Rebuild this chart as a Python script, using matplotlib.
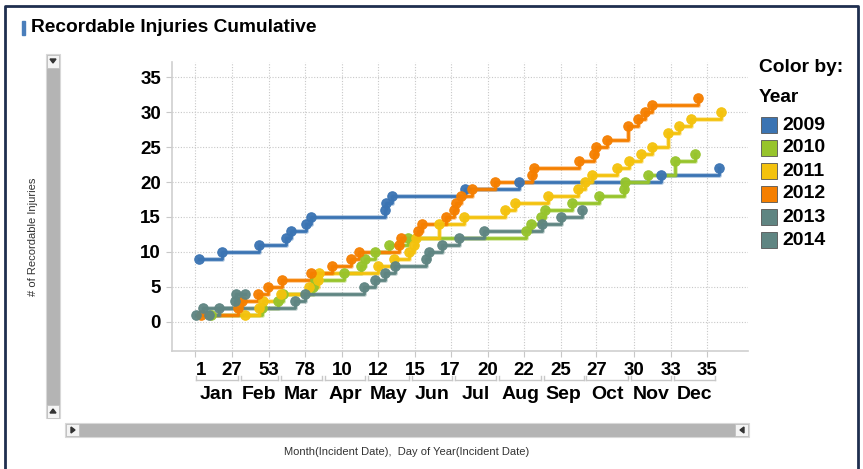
import matplotlib.pyplot as plt
import matplotlib.patheffects as pe
from matplotlib.patches import Rectangle, Polygon
from matplotlib.lines import Line2D
from matplotlib.transforms import ScaledTranslation

plt.rcParams['font.family'] = ['Liberation Sans', 'DejaVu Sans']

# ---- data: day of year of each incident and the running total ----
years = ["2009", "2010", "2011", "2012", "2013", "2014"]
colors = ["#3b74b3", "#97c42c", "#f4c20d", "#f57f00", "#5f8582", "#5f8582"]

days_2009 = [4, 20, 46, 65, 68, 79, 82, 134, 135, 139, 190, 228, 327, 368]
cum_2009 = [9, 10, 11, 12, 13, 14, 15, 16, 17, 18, 19, 20, 21, 22]

days_2010 = [12, 48, 59, 63, 84, 85, 105, 117, 120, 127, 137, 150, 233, 236,
             243, 246, 265, 284, 301, 302, 318, 337, 351]
cum_2010 = [1, 2, 3, 4, 5, 6, 7, 8, 9, 10, 11, 12, 13, 14,
            15, 16, 17, 18, 19, 20, 21, 23, 24]

days_2011 = [36, 46, 49, 61, 81, 87, 88, 129, 140, 151, 154, 156, 172, 189,
             218, 225, 248, 269, 274, 279, 296, 305, 313, 321, 332, 340, 348, 369]
cum_2011 = [1, 2, 3, 4, 5, 6, 7, 8, 9, 10, 11, 12, 14, 15,
            16, 17, 18, 19, 20, 21, 22, 23, 24, 25, 27, 28, 29, 30]

days_2012 = [5, 31, 34, 45, 52, 62, 82, 97, 110, 116, 144, 145, 157, 160,
             177, 182, 184, 187, 195, 211, 237, 238, 270, 280, 282, 289, 304,
             311, 316, 321, 353]
cum_2012 = [1, 2, 3, 4, 5, 6, 7, 8, 9, 10, 11, 12, 13, 14,
            15, 16, 17, 18, 19, 20, 21, 22, 23, 24, 25, 26, 28,
            29, 30, 31, 32]

days_2013 = [2, 7, 71, 78, 119, 127, 134, 141, 163, 165, 174, 186, 203, 244,
             257, 272]
cum_2013 = [1, 2, 3, 4, 5, 6, 7, 8, 9, 10, 11, 12, 13, 14, 15, 16]

days_2014 = [11, 18, 29, 30, 36]
cum_2014 = [1, 2, 3, 4, 4]

series = [(days_2009, cum_2009), (days_2010, cum_2010), (days_2011, cum_2011),
          (days_2012, cum_2012), (days_2013, cum_2013), (days_2014, cum_2014)]

tick_days = [1, 27, 53, 78, 104, 129, 155, 180, 206, 231, 257, 282, 308, 334, 359]
tick_labels = ["1", "27", "53", "78", "10", "12", "15", "17", "20", "22", "25",
               "27", "30", "33", "35"]
months = ["Jan", "Feb", "Mar", "Apr", "May", "Jun", "Jul", "Aug", "Sep", "Oct",
          "Nov", "Dec"]
month_starts = [1, 32, 60, 91, 121, 152, 182, 213, 244, 274, 305, 335, 366]

W, H = 863, 469


def fx(x):
    return x / W


def fy(y):
    return 1 - y / H


fig = plt.figure(figsize=(W / 100, H / 100), dpi=100)
fig.patch.set_facecolor("white")

ax = fig.add_axes([fx(172), fy(351), (748 - 172) / W, (351 - 62) / H])
ax.set_xlim(-15, 388)
ax.set_ylim(-4.2, 37.2)

for (d, c), col in zip(series, colors):
    ax.step(d, c, where="post", color=col, lw=2.0, zorder=3,
            path_effects=[pe.Stroke(linewidth=3.6, foreground=col, alpha=0.35),
                          pe.Normal()])
    ax.plot(d, c, "o", color=col, ms=6.8, mec=col, mew=0.8, alpha=0.95,
            zorder=4)

ax.set_yticks(range(0, 36, 5))
ax.set_xticks(tick_days)
ax.set_xticklabels(tick_labels)
ax.grid(True, color="#c8c8c8", ls=(0, (1, 1.5)), lw=0.8)
ax.set_axisbelow(True)
for s in ["top", "right"]:
    ax.spines[s].set_visible(False)
for s in ["left", "bottom"]:
    ax.spines[s].set_color("#cfcfcf")
    ax.spines[s].set_linewidth(1.2)
ax.tick_params(axis="both", colors="#c8c8c8", length=4, labelcolor="black",
               labelsize=13.5)
ax.tick_params(axis="x", pad=4)
ax.tick_params(axis="y", pad=4)
for lab in ax.get_xticklabels() + ax.get_yticklabels():
    lab.set_fontweight("bold")
first = ax.get_xticklabels()[0]
first.set_transform(first.get_transform() +
                    ScaledTranslation(6 / 100, 0, fig.dpi_scale_trans))

# month level of the hierarchical axis
for i, m in enumerate(months):
    a, b = month_starts[i], month_starts[i + 1]
    ax.plot([a + 1, b - 1], [-0.10, -0.10], color="#c8c8c8", lw=1,
            transform=ax.get_xaxis_transform(), clip_on=False)
    for e in (a + 1, b - 1):
        ax.plot([e, e], [-0.10, -0.085], color="#c8c8c8", lw=1,
                transform=ax.get_xaxis_transform(), clip_on=False)
    ax.text((a + b) / 2, -0.149, m, transform=ax.get_xaxis_transform(),
            ha="center", va="center", fontsize=14, fontweight="bold")

# title
fig.add_artist(Rectangle((fx(22), fy(35)), 3 / W, 14 / H, color="#4a7ebb",
                         transform=fig.transFigure))
fig.text(fx(31), fy(28), "Recordable Injuries Cumulative", fontsize=13.8,
         fontweight="bold", va="center")

# axis titles
fig.text(fx(33), fy(237), "# of Recordable Injuries", rotation=90,
         fontsize=8, color="#333333", ha="center", va="center")
fig.text(fx(407), fy(452), "Month(Incident Date),  Day of Year(Incident Date)",
         fontsize=8, color="#333333", ha="center", va="center")

# legend
fig.text(fx(759), fy(67), "Color by:", fontsize=13.8, fontweight="bold",
         va="center")
fig.text(fx(759), fy(97), "Year", fontsize=13.8, fontweight="bold", va="center")
legend_y = [125, 148, 171, 194, 217, 240]
for yr, col, yy in zip(years, colors, legend_y):
    fig.add_artist(Rectangle((fx(761), fy(yy + 8)), 16 / W, 16 / H,
                             facecolor=col, edgecolor="#555555", lw=0.6,
                             transform=fig.transFigure))
    fig.text(fx(782), fy(yy), yr, fontsize=14, fontweight="bold",
             va="center")

# scrollbars
sb = "#b4b4b4"
fig.add_artist(Rectangle((fx(46), fy(418)), 14 / W, 364 / H, facecolor=sb,
                         edgecolor="#d8d8d8", lw=0.8, transform=fig.transFigure))
for y0 in (54, 404):
    fig.add_artist(Rectangle((fx(47), fy(y0 + 14)), 12 / W, 13 / H,
                             facecolor="#f4f4f4", edgecolor="#c0c0c0", lw=0.6,
                             transform=fig.transFigure))
fig.add_artist(Polygon([(fx(50), fy(59)), (fx(56), fy(59)), (fx(53), fy(63))],
                       color="#333333", transform=fig.transFigure))
fig.add_artist(Polygon([(fx(50), fy(413)), (fx(56), fy(413)), (fx(53), fy(409))],
                       color="#333333", transform=fig.transFigure))

fig.add_artist(Rectangle((fx(65), fy(437)), (749 - 65) / W, 14 / H,
                         facecolor=sb, edgecolor="#d8d8d8", lw=0.8,
                         transform=fig.transFigure))
for x0 in (66, 735):
    fig.add_artist(Rectangle((fx(x0), fy(436)), 13 / W, 12 / H,
                             facecolor="#f4f4f4", edgecolor="#c0c0c0", lw=0.6,
                             transform=fig.transFigure))
fig.add_artist(Polygon([(fx(71), fy(427)), (fx(71), fy(433)), (fx(75), fy(430))],
                       color="#333333", transform=fig.transFigure))
fig.add_artist(Polygon([(fx(744), fy(427)), (fx(744), fy(433)), (fx(740), fy(430))],
                       color="#333333", transform=fig.transFigure))

# outer frame
fig.add_artist(Line2D([fx(5), fx(5), fx(858), fx(858)],
                      [0, fy(6), fy(6), 0], color="#1f2f4f", lw=2,
                      transform=fig.transFigure))

fig.savefig("out.png", dpi=100)
